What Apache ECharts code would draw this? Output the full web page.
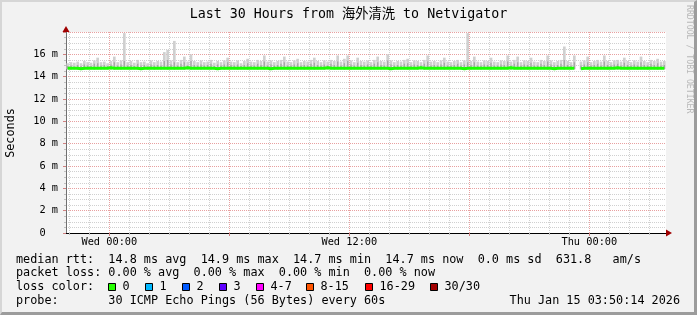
<!DOCTYPE html>
<html>
<head>
<meta charset="utf-8">
<script src="https://cdn.jsdelivr.net/npm/echarts@6/dist/echarts.min.js"></script>
<style>
html,body{margin:0;padding:0;background:#f2f2f2;}
#wrap{position:relative;width:697px;height:315px;}
#c{width:697px;height:315px;background:#f2f2f2;}
#frame{position:absolute;left:0;top:0;width:697px;height:315px;box-sizing:border-box;border-top:2px solid #d6d6d6;border-left:2px solid #d6d6d6;border-right:3px solid #9c9c9c;border-bottom:3px solid #9c9c9c;pointer-events:none;}
</style>
</head>
<body>
<div id="wrap"><div id="c"></div><div id="frame"></div></div>
<script>
// ---- data (minutes relative to Wed 00:00, 10-minute buckets from Tue 21:50) ----
const startMinute = -130;
const stepMinutes = 10;
const endMinute = 1670;

const medianRtt = [
 14.75,14.75,14.75,14.75,14.7,14.75,14.75,14.75,14.75,14.75,
 14.75,14.75,14.75,14.8,14.75,14.75,14.75,14.75,14.75,14.75,
 14.75,14.75,14.7,14.75,14.75,14.75,14.75,14.75,14.75,14.75,
 14.75,14.75,14.75,14.75,14.75,14.75,14.8,14.75,14.75,14.75,
 14.75,14.75,14.75,14.75,14.75,14.7,14.75,14.75,14.75,14.75,
 14.75,14.75,14.75,14.75,14.75,14.75,14.75,14.75,14.75,14.75,
 14.75,14.7,14.75,14.75,14.75,14.75,14.75,14.75,14.75,14.75,
 14.75,14.75,14.75,14.75,14.75,14.75,14.75,14.75,14.8,14.75,
 14.75,14.75,14.75,14.75,14.75,14.75,14.75,14.75,14.75,14.75,
 14.75,14.75,14.75,14.75,14.75,14.75,14.75,14.7,14.75,14.75,
 14.75,14.75,14.75,14.75,14.75,14.75,14.8,14.75,14.75,14.75,
 14.75,14.75,14.75,14.75,14.75,14.75,14.75,14.75,14.75,14.7,
 14.75,14.75,14.75,14.75,14.75,14.75,14.75,14.75,14.75,14.75,
 14.75,14.75,14.75,14.8,14.75,14.75,14.75,14.75,14.75,14.75,
 14.75,14.75,14.75,14.75,14.75,14.75,14.7,14.75,14.75,14.75,
 14.75,14.75,14.75,null,14.7,14.75,14.75,14.75,14.75,14.75,
 14.75,14.75,14.75,14.75,14.75,14.8,14.75,14.75,14.75,14.75,
 14.75,14.75,14.75,14.75,14.75,14.75,14.75,14.75,14.75,14.75
];

const smokeLow = [
 14.66,14.65,14.66,14.64,14.66,14.65,14.66,14.66,14.65,14.66,
 14.65,14.66,14.66,14.65,14.64,14.66,14.65,14.66,14.66,14.65,
 14.66,14.65,14.66,14.66,14.65,14.66,14.64,14.66,14.65,14.66,
 14.65,14.66,14.65,14.66,14.66,14.65,14.66,14.65,14.66,14.66,
 14.65,14.66,14.66,14.65,14.66,14.64,14.66,14.65,14.66,14.66,
 14.66,14.65,14.66,14.66,14.65,14.66,14.66,14.65,14.66,14.65,
 14.66,14.64,14.66,14.65,14.66,14.66,14.65,14.66,14.66,14.65,
 14.66,14.65,14.66,14.66,14.65,14.66,14.66,14.65,14.66,14.66,
 14.65,14.66,14.66,14.65,14.66,14.65,14.66,14.66,14.65,14.66,
 14.66,14.65,14.66,14.66,14.65,14.66,14.66,14.64,14.66,14.65,
 14.66,14.66,14.65,14.66,14.66,14.65,14.66,14.65,14.66,14.66,
 14.65,14.66,14.66,14.65,14.66,14.66,14.65,14.66,14.66,14.64,
 14.66,14.65,14.66,14.66,14.65,14.66,14.66,14.65,14.66,14.66,
 14.65,14.66,14.66,14.65,14.66,14.66,14.65,14.66,14.65,14.66,
 14.66,14.65,14.66,14.66,14.65,14.66,14.64,14.66,14.66,14.65,
 14.66,14.65,14.66,null,14.64,14.66,14.65,14.66,14.66,14.65,
 14.66,14.66,14.65,14.66,14.66,14.65,14.66,14.66,14.65,14.66,
 14.66,14.65,14.66,14.66,14.65,14.66,14.66,14.65,14.66,14.66
];

const smokeMid = [
 14.95,15.0,14.9,15.05,14.95,15.1,15.0,14.95,15.15,15.2,
 15.0,15.05,14.95,15.1,15.3,15.0,15.1,15.4,15.0,15.05,
 14.95,15.15,15.0,15.05,14.9,15.1,15.0,15.05,15.0,15.4,
 15.5,15.1,15.3,15.0,15.15,15.3,15.0,15.4,15.05,15.0,
 15.1,15.0,15.05,15.15,14.95,15.1,15.0,15.1,15.3,15.05,
 15.0,15.1,14.95,15.05,15.2,15.0,15.0,15.15,15.05,15.35,
 15.0,15.1,15.0,15.05,15.15,15.3,15.0,15.0,15.1,15.2,
 15.0,15.05,15.0,15.15,15.25,15.05,15.0,15.1,15.0,15.15,
 15.05,15.35,15.0,15.2,15.4,15.1,15.0,15.25,15.05,15.0,
 15.1,15.0,15.15,15.3,15.05,15.0,15.45,15.1,15.0,15.05,
 15.0,15.15,15.2,15.0,15.1,15.05,15.0,15.15,15.35,15.0,
 15.05,15.0,15.1,15.25,15.0,15.0,15.05,15.15,15.0,15.1,
 15.3,15.05,15.3,15.0,15.0,15.1,15.05,15.25,15.0,15.0,
 15.1,15.05,15.35,15.0,15.15,15.3,15.0,15.1,15.05,15.25,
 15.0,15.0,15.15,15.05,15.35,15.1,15.0,15.05,15.15,15.5,
 15.05,15.0,15.3,null,15.0,15.1,15.3,15.0,15.05,15.15,
 15.0,15.35,15.05,15.0,15.1,15.15,15.0,15.25,15.05,15.0,
 15.1,15.0,15.3,15.05,15.0,15.15,15.05,15.2,15.0,15.05
];

const smokeHigh = [
 15.2,15.3,15.25,15.35,15.2,15.4,15.3,15.25,15.45,15.7,
 15.3,15.35,15.2,15.4,15.8,15.3,15.45,17.9,15.3,15.4,
 15.25,15.5,15.3,15.35,15.2,15.45,15.3,15.4,15.35,16.2,
 16.4,15.45,17.2,15.3,15.5,15.8,15.35,16.0,15.4,15.3,
 15.45,15.3,15.35,15.5,15.25,15.4,15.3,15.45,15.7,15.35,
 15.3,15.45,15.2,15.4,15.6,15.35,15.3,15.5,15.4,15.9,
 15.35,15.45,15.3,15.4,15.5,15.8,15.35,15.3,15.45,15.6,
 15.3,15.4,15.35,15.5,15.7,15.4,15.3,15.45,15.35,15.5,
 15.4,15.9,15.35,15.6,15.9,15.45,15.3,15.7,15.4,15.35,
 15.45,15.3,15.5,15.8,15.4,15.35,16.0,15.45,15.3,15.4,
 15.35,15.5,15.6,15.3,15.45,15.4,15.3,15.5,15.9,15.35,
 15.4,15.3,15.45,15.7,15.35,15.3,15.4,15.5,15.3,15.45,
 17.9,15.4,15.8,15.35,15.3,15.45,15.4,15.7,15.35,15.3,
 15.45,15.4,15.9,15.35,15.5,15.8,15.3,15.45,15.4,15.7,
 15.35,15.3,15.5,15.4,15.9,15.45,15.3,15.4,15.5,16.7,
 15.4,15.3,15.9,null,15.35,15.45,15.8,15.3,15.4,15.5,
 15.35,15.9,15.4,15.3,15.45,15.5,15.35,15.7,15.4,15.3,
 15.45,15.35,15.8,15.4,15.3,15.5,15.4,15.6,15.35,15.4
];

// axis ticks (minutes relative to Wed 00:00)
const hourTicks = [-120,-60,60,120,180,240,300,420,480,540,600,660,780,840,900,960,1020,1140,1200,1260,1320,1380,1500,1560,1620];
const majorTicks = [0,360,720,1080,1440];
const xLabelValues = [0,720,1440];
const xLabelTexts = ['Wed 00:00','Wed 12:00','Thu 00:00'];

// legend / stats text
const titleText = 'Last 30 Hours from 海外清洗 to Netvigator';
const rttStats = ['14.8 ms avg','14.9 ms max','14.7 ms min','14.7 ms now','0.0 ms sd','631.8   am/s'];
const lossStats = ['0.00 % avg','0.00 % max','0.00 % min','0.00 % now'];
const lossLabels = ['0','1','2','3','4-7','8-15','16-29','30/30'];
const lossColors = ['#26ff00','#00b8ff','#0059ff','#5e00ff','#ff00ff','#ff5500','#ff0000','#a10000'];
const probeText = '30 ICMP Echo Pings (56 Bytes) every 60s';
const dateText = 'Thu Jan 15 03:50:14 2026';

// ---- build ----
const mono = "'DejaVu Sans Mono', 'Noto Sans CJK SC', monospace";
const xOf = i => startMinute + stepMinutes * (i + 0.5);
const linePairs = arr => arr.map((v, i) => [xOf(i), v == null ? null : v]);
const bandTriples = (lo, hi) => lo.map((v, i) => [xOf(i), v == null ? null : v, hi[i] == null ? null : hi[i]]);

const lossBoxX = [108.5,145.5,182.5,219.5,256.5,306.5,365.5,430.5];

const chart = echarts.init(document.getElementById('c'), null, {renderer: 'canvas'});

const baseX = {
  type: 'value', min: startMinute, max: endMinute, gridIndex: 0, position: 'bottom',
  axisLine: {show: false, onZero: false}, axisLabel: {show: false},
  axisTick: {show: false}, splitLine: {show: false}
};

const graphic = [
  {type: 'text', x: 348.5, y: 15, style: {text: titleText, font: '13.3px ' + mono, fill: '#000', align: 'center', verticalAlign: 'middle'}},
  {type: 'text', x: 11, y: 133, rotation: Math.PI / 2, style: {text: 'Seconds', font: '11.8px ' + mono, fill: '#000', align: 'center', verticalAlign: 'middle'}},
  {type: 'text', x: 689, y: 5, rotation: -Math.PI / 2, style: {text: 'RRDTOOL / TOBI OETIKER', font: '8.2px ' + mono, fill: '#b8b8b8', align: 'left', verticalAlign: 'middle'}},
  {type: 'text', x: 16, y: 260, style: {text: 'median rtt:  ' + rttStats.join('  '), font: '11.8px ' + mono, fill: '#000', align: 'left', verticalAlign: 'middle'}},
  {type: 'text', x: 16, y: 273, style: {text: 'packet loss: ' + lossStats.join('  '), font: '11.8px ' + mono, fill: '#000', align: 'left', verticalAlign: 'middle'}},
  {type: 'text', x: 16, y: 287.3, style: {text: 'loss color:', font: '11.8px ' + mono, fill: '#000', align: 'left', verticalAlign: 'middle'}},
  {type: 'text', x: 16, y: 301, style: {text: 'probe:       ' + probeText, font: '11.8px ' + mono, fill: '#000', align: 'left', verticalAlign: 'middle'}},
  {type: 'text', x: 680, y: 301, style: {text: dateText, font: '11.8px ' + mono, fill: '#000', align: 'right', verticalAlign: 'middle'}}
];
lossLabels.forEach((lab, k) => {
  graphic.push({type: 'rect', shape: {x: lossBoxX[k], y: 283.5, width: 7, height: 7}, style: {fill: lossColors[k], stroke: '#000', lineWidth: 1}});
  graphic.push({type: 'text', x: lossBoxX[k] + 14, y: 287.3, style: {text: lab, font: '11.8px ' + mono, fill: '#000', align: 'left', verticalAlign: 'middle'}});
});

// widthFrac: share of the bucket width that the band occupies (visual texture only)
function bandRenderer(color, widthFrac) {
  return function (params, api) {
    const x = api.value(0), lo = api.value(1), hi = api.value(2);
    if (isNaN(lo) || isNaN(hi)) return null;
    const half = stepMinutes / 2 * widthFrac;
    const p1 = api.coord([x - half, hi]);
    const p2 = api.coord([x + half, lo]);
    return {type: 'rect', shape: {x: p1[0], y: p1[1], width: p2[0] - p1[0], height: p2[1] - p1[1]}, style: {fill: color}, silent: true};
  };
}

const option = {
  animation: false,
  backgroundColor: '#f2f2f2',
  grid: {left: 66, top: 32, width: 600, height: 201, show: true, backgroundColor: '#ffffff', borderWidth: 0, containLabel: false, outerBoundsMode: 'none'},
  xAxis: [
    Object.assign({}, baseX, {
      axisTick: {show: true, length: 2, lineStyle: {color: '#c0c0c0'}, customValues: hourTicks},
      splitLine: {show: true, lineStyle: {color: '#d0d0d0', width: 1, type: [1, 1]}}
    }),
    Object.assign({}, baseX, {
      axisLine: {show: true, onZero: false, lineStyle: {color: '#a00000', width: 1}, symbol: ['none', 'triangle'], symbolSize: [7, 6], symbolOffset: [0, 3]},
      axisTick: {show: true, length: 3, lineStyle: {color: '#d08080'}, customValues: majorTicks},
      splitLine: {show: true, lineStyle: {color: '#e8a0a0', width: 1, type: [1, 1]}}
    }),
    Object.assign({}, baseX, {
      axisLine: {show: true, onZero: false, lineStyle: {color: '#000000', width: 1}},
      axisLabel: {show: true, customValues: xLabelValues, formatter: v => xLabelTexts[xLabelValues.indexOf(v)] || '', fontFamily: mono, fontSize: 10.3, color: '#000', margin: 4}
    })
  ],
  yAxis: [
    {
      type: 'value', min: 0, max: 18, interval: 2, position: 'left', gridIndex: 0,
      axisLine: {show: true, onZero: false, lineStyle: {color: '#a00000', width: 1}, symbol: ['none', 'triangle'], symbolSize: [7, 6], symbolOffset: [0, 3]},
      axisTick: {show: true, length: 3, lineStyle: {color: '#d08080'}},
      minorTick: {show: true, splitNumber: 4, length: 2, lineStyle: {color: '#c0c0c0'}},
      splitLine: {show: true, lineStyle: {color: '#e8a0a0', width: 1, type: [1, 1]}},
      minorSplitLine: {show: true, lineStyle: {color: '#d0d0d0', width: 1, type: [1, 1]}},
      axisLabel: {show: true, margin: 8, fontFamily: mono, fontSize: 10.3, color: '#000',
        formatter: v => v === 0 ? '0\u00a0\u00a0' : (v === 18 ? '' : v + ' m')}
    },
    {
      type: 'value', min: 0, max: 18, interval: 2, position: 'left', gridIndex: 0,
      axisLine: {show: true, onZero: false, lineStyle: {color: '#707070', width: 1}},
      axisTick: {show: false}, axisLabel: {show: false}, splitLine: {show: false}
    }
  ],
  graphic: graphic,
  series: [
    {type: 'custom', name: 'smokeHigh', xAxisIndex: 0, yAxisIndex: 0, data: bandTriples(smokeLow, smokeHigh),
      encode: {x: 0, y: [1, 2]}, renderItem: bandRenderer('#d0d0d0', 0.8), silent: true, animation: false, z: 2, clip: true},
    {type: 'custom', name: 'smokeMid', xAxisIndex: 0, yAxisIndex: 0, data: bandTriples(smokeLow, smokeMid),
      encode: {x: 0, y: [1, 2]}, renderItem: bandRenderer('#a8a8a8', 0.4), silent: true, animation: false, z: 3, clip: true},
    {type: 'line', name: 'median', xAxisIndex: 0, yAxisIndex: 0, data: linePairs(medianRtt), showSymbol: false, connectNulls: false,
      lineStyle: {color: '#1aff00', width: 3}, itemStyle: {color: '#1aff00'}, z: 5, silent: true, animation: false}
  ]
};
chart.setOption(option);
</script>
</body>
</html>
